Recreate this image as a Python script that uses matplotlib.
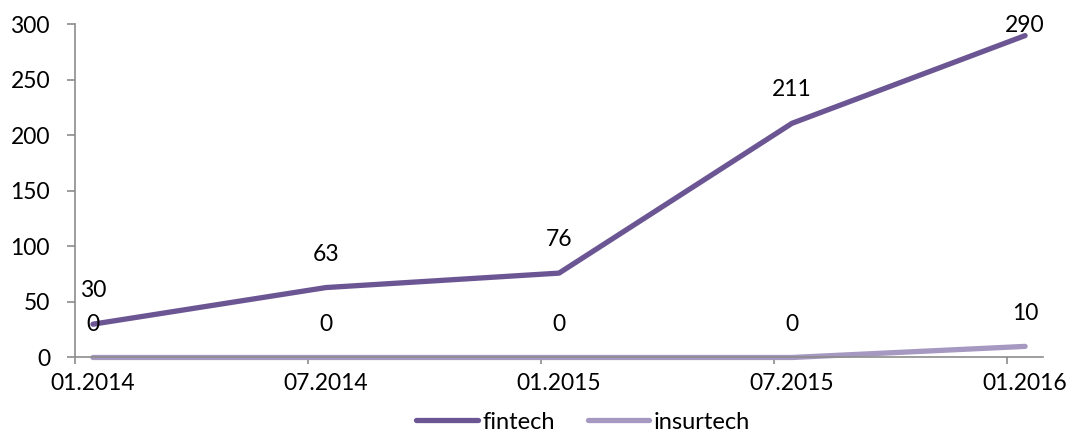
import numpy as np
import matplotlib
matplotlib.use("Agg")
import matplotlib.pyplot as plt

# chart values
periods = ["01.2014", "07.2014", "01.2015", "07.2015", "01.2016"]
fintech = [30, 63, 76, 211, 290]
insurtech = [0, 0, 0, 0, 10]

plt.rcParams['font.family'] = ['Lato', 'DejaVu Sans']
FS = 16.5

fig = plt.figure(figsize=(10.7, 4.32), dpi=100)
ax = fig.add_axes([0.0701, 0.1725, 0.9047, 0.7708])

x = np.arange(len(periods))
ax.plot(x, fintech, color='#6b5693', lw=3.8, solid_capstyle='round', label='fintech', clip_on=False)
ax.plot(x, insurtech, color='#a598c1', lw=3.8, solid_capstyle='round', label='insurtech', clip_on=False)

ax.set_xlim(-0.077, 4.077)
ax.set_ylim(0, 300)

for xi, v in zip(x, fintech):
    off = 24 if v < 280 else 7
    ax.annotate(str(v), (xi, v), xytext=(0, off), textcoords='offset points',
                ha='center', va='center', fontsize=FS)
for xi, v in zip(x, insurtech):
    ax.annotate(str(v), (xi, v), xytext=(0, 24), textcoords='offset points',
                ha='center', va='center', fontsize=FS)

ax.set_yticks(range(0, 301, 50))
ax.set_xticks(x)
ax.set_xticklabels(periods)
ax.set_xticks(x - 0.077, minor=True)
ax.tick_params(axis='x', which='major', length=0, pad=11, labelsize=FS)
ax.tick_params(axis='x', which='minor', length=5, color='#8c8c8c', width=1.2)
ax.tick_params(axis='y', length=6, color='#8c8c8c', width=1.2, labelsize=FS, pad=12)

for s in ['top', 'right']:
    ax.spines[s].set_visible(False)
for s in ['left', 'bottom']:
    ax.spines[s].set_color('#8c8c8c')
    ax.spines[s].set_linewidth(1.2)

ax.legend(loc='center', bbox_to_anchor=(0.525, -0.194), ncol=2, frameon=False,
          fontsize=17, handlelength=2.6, handletextpad=0.2, columnspacing=1.4,
          borderpad=0, borderaxespad=0)

fig.savefig("out.png", dpi=100)
